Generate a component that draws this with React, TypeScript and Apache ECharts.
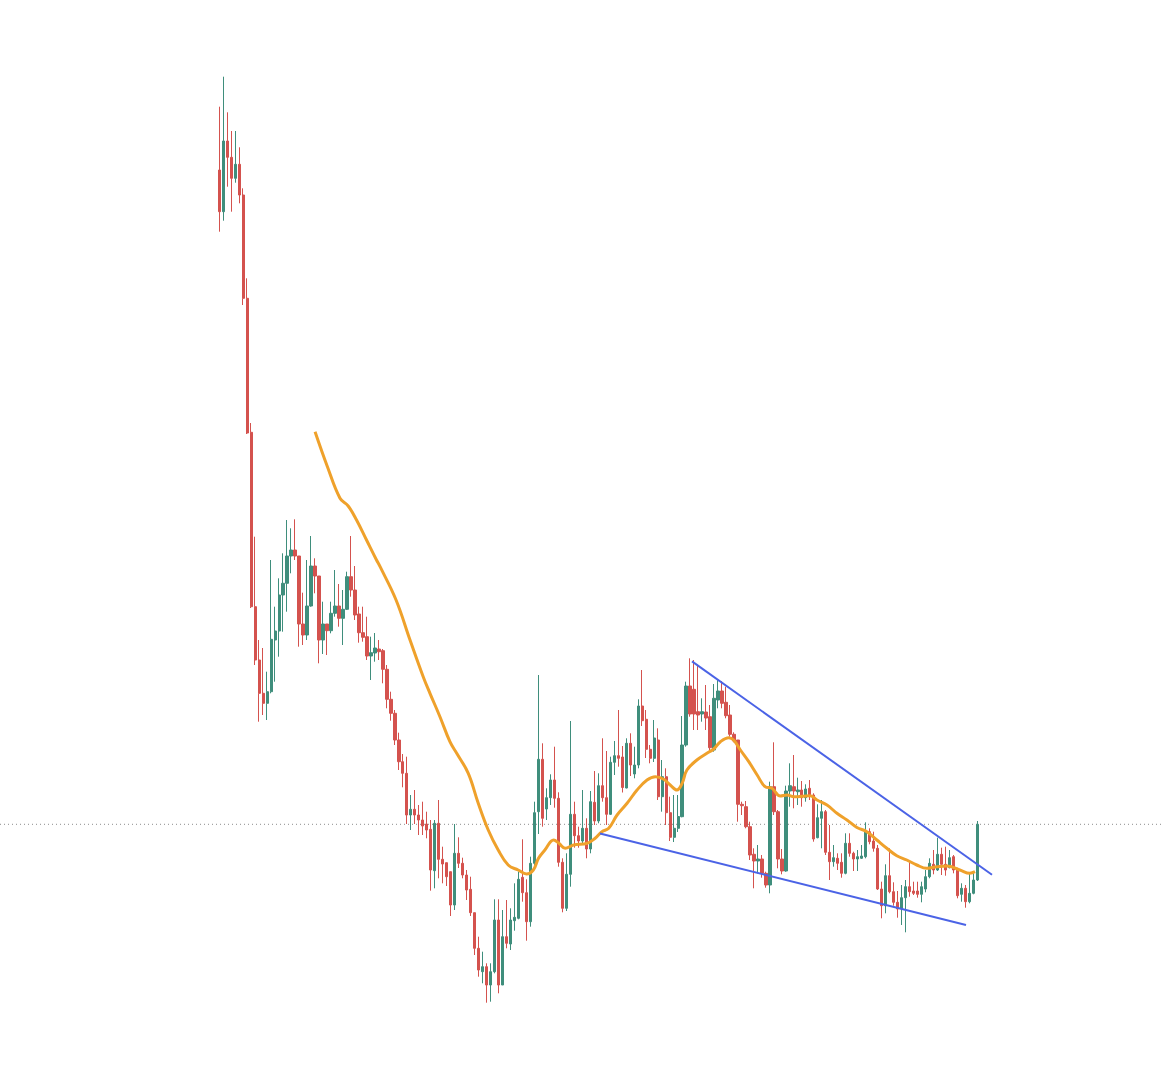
import React, { useEffect, useRef } from "react";
import * as echarts from "echarts";

// Candles: [open, close, low, high]
const CANDLES: number[][] = [
  [91.5, 87.33, 85.33, 97.83],
  [87.33, 94.4, 86.43, 100.83],
  [94.4, 92.77, 89.83, 97.27],
  [92.77, 90.67, 87.33, 95.4],
  [90.67, 92.07, 90.23, 95.4],
  [92.07, 89.0, 88.17, 93.77],
  [89.0, 78.67, 78.0, 89.67],
  [78.67, 65.2, 65.1, 80.67],
  [65.27, 47.83, 47.7, 66.2],
  [47.83, 42.5, 42.0, 54.83],
  [42.5, 39.17, 36.33, 44.5],
  [39.17, 38.17, 37.0, 43.7],
  [38.17, 39.33, 36.5, 41.33],
  [39.33, 44.57, 39.17, 52.5],
  [44.5, 45.4, 40.33, 47.83],
  [45.4, 49.0, 42.83, 50.67],
  [49.0, 50.17, 45.33, 53.17],
  [50.17, 52.9, 47.33, 56.5],
  [52.9, 53.5, 51.17, 55.67],
  [53.5, 52.9, 52.5, 56.57],
  [52.9, 46.1, 43.83, 52.9],
  [46.1, 45.0, 44.0, 49.23],
  [45.0, 47.9, 44.5, 52.5],
  [47.9, 51.9, 47.83, 54.9],
  [51.9, 50.9, 49.17, 52.67],
  [50.9, 44.5, 42.17, 50.9],
  [44.5, 46.1, 43.1, 48.33],
  [46.1, 45.43, 43.0, 46.1],
  [45.43, 47.17, 45.17, 48.33],
  [47.17, 47.9, 46.83, 51.5],
  [47.9, 46.67, 45.83, 50.1],
  [46.67, 47.57, 44.0, 49.5],
  [47.57, 50.83, 47.5, 51.33],
  [50.83, 49.5, 48.83, 54.9],
  [49.5, 47.0, 46.5, 51.9],
  [47.1, 45.23, 44.23, 47.83],
  [45.23, 44.77, 44.33, 47.83],
  [44.83, 42.9, 42.5, 46.83],
  [42.9, 43.23, 40.5, 44.83],
  [43.2, 43.7, 42.33, 45.2],
  [43.6, 43.33, 42.5, 44.5],
  [43.43, 41.57, 40.17, 43.6],
  [41.57, 38.57, 37.67, 42.0],
  [38.57, 37.17, 36.43, 39.33],
  [37.17, 34.5, 34.0, 37.5],
  [34.5, 32.33, 31.5, 35.23],
  [32.33, 31.17, 29.77, 33.1],
  [31.17, 27.0, 26.1, 32.83],
  [27.0, 27.57, 25.5, 29.0],
  [27.57, 27.0, 26.1, 29.5],
  [27.0, 26.5, 25.0, 28.0],
  [26.5, 25.9, 25.0, 28.33],
  [26.1, 25.5, 24.67, 27.33],
  [25.57, 21.5, 19.43, 26.5],
  [21.43, 26.17, 19.67, 26.5],
  [26.17, 22.57, 20.67, 28.5],
  [22.57, 22.1, 20.17, 23.83],
  [22.23, 20.83, 19.9, 22.23],
  [21.33, 18.0, 16.9, 21.33],
  [18.0, 23.17, 17.5, 26.1],
  [23.17, 22.17, 21.7, 24.77],
  [22.17, 21.0, 20.67, 22.73],
  [21.0, 19.5, 18.5, 21.5],
  [19.57, 17.23, 16.9, 20.83],
  [17.23, 13.67, 13.0, 17.23],
  [13.67, 11.5, 10.83, 14.83],
  [11.33, 11.83, 10.17, 13.33],
  [11.83, 10.0, 8.23, 12.17],
  [10.0, 11.33, 8.33, 12.17],
  [11.33, 16.5, 11.17, 18.57],
  [16.5, 10.0, 9.17, 18.57],
  [10.0, 14.83, 10.0, 17.5],
  [14.83, 14.17, 13.67, 18.5],
  [14.1, 16.5, 13.5, 17.67],
  [16.43, 16.77, 15.43, 20.17],
  [16.67, 20.57, 16.57, 21.33],
  [20.77, 19.23, 18.33, 24.57],
  [19.23, 16.33, 14.43, 20.57],
  [16.33, 22.17, 15.83, 22.83],
  [22.17, 27.23, 21.83, 28.33],
  [27.33, 32.57, 25.1, 41.0],
  [32.57, 26.67, 25.83, 34.17],
  [27.6, 28.73, 26.5, 29.67],
  [28.73, 30.5, 28.0, 31.07],
  [30.5, 28.67, 27.73, 33.83],
  [28.67, 22.27, 21.83, 29.27],
  [22.27, 17.67, 17.27, 22.67],
  [17.67, 21.07, 17.4, 23.17],
  [21.07, 27.07, 19.83, 36.4],
  [27.07, 24.93, 23.73, 28.33],
  [24.93, 24.4, 23.73, 25.83],
  [24.4, 25.67, 24.07, 29.5],
  [25.67, 23.6, 22.67, 26.67],
  [23.6, 28.33, 23.17, 29.4],
  [28.27, 26.4, 26.0, 31.4],
  [26.4, 29.93, 26.17, 31.17],
  [29.93, 28.73, 28.33, 34.67],
  [28.73, 27.07, 26.0, 33.4],
  [27.07, 32.27, 27.0, 32.83],
  [32.27, 32.93, 31.0, 34.4],
  [32.93, 32.67, 31.83, 37.5],
  [32.8, 29.75, 29.25, 33.9],
  [29.7, 34.17, 29.67, 34.67],
  [34.17, 32.0, 30.9, 35.17],
  [31.1, 32.0, 30.67, 33.83],
  [32.0, 37.9, 31.67, 38.57],
  [37.9, 36.43, 35.9, 41.5],
  [36.57, 33.57, 32.7, 37.5],
  [33.57, 32.67, 32.17, 34.0],
  [32.67, 34.7, 32.3, 36.5],
  [34.5, 28.83, 28.5, 35.67],
  [28.83, 30.83, 27.33, 32.5],
  [30.83, 27.23, 26.0, 31.67],
  [27.23, 24.77, 24.4, 28.83],
  [24.77, 25.67, 24.3, 29.0],
  [25.67, 26.85, 25.3, 29.0],
  [26.83, 34.0, 26.77, 36.9],
  [34.0, 39.9, 33.83, 40.33],
  [39.9, 37.1, 36.83, 42.67],
  [39.57, 37.1, 35.5, 42.5],
  [37.33, 37.0, 35.5, 42.0],
  [37.1, 37.33, 36.33, 38.67],
  [37.3, 36.7, 35.5, 40.0],
  [36.83, 33.73, 33.33, 38.0],
  [33.5, 38.67, 33.33, 40.1],
  [38.5, 39.4, 37.67, 40.5],
  [39.4, 38.17, 37.67, 40.4],
  [38.27, 36.93, 36.67, 39.83],
  [37.0, 35.07, 34.83, 38.0],
  [35.07, 34.4, 34.27, 35.27],
  [34.5, 28.07, 26.33, 34.5],
  [28.07, 27.93, 27.0, 28.33],
  [27.83, 25.83, 25.67, 28.4],
  [25.83, 23.0, 22.5, 26.33],
  [23.07, 22.4, 19.67, 23.67],
  [22.4, 22.6, 21.17, 24.0],
  [22.6, 21.17, 20.73, 23.0],
  [21.17, 20.0, 19.73, 21.33],
  [20.0, 29.83, 19.17, 30.33],
  [29.83, 27.33, 27.0, 34.27],
  [27.33, 22.6, 21.67, 27.5],
  [22.6, 21.4, 21.07, 23.6],
  [21.4, 29.4, 21.33, 29.93],
  [29.4, 29.93, 27.83, 32.17],
  [29.83, 29.4, 27.67, 33.0],
  [29.33, 29.5, 28.0, 30.73],
  [29.5, 28.73, 27.83, 30.4],
  [28.73, 29.6, 28.33, 30.07],
  [29.67, 29.0, 28.5, 30.5],
  [29.0, 24.6, 24.33, 29.17],
  [24.73, 26.73, 24.67, 28.07],
  [26.67, 27.33, 23.67, 28.5],
  [27.33, 23.27, 23.0, 27.5],
  [23.27, 22.33, 20.5, 26.0],
  [22.33, 22.73, 21.83, 24.0],
  [22.67, 22.17, 21.5, 23.17],
  [22.27, 21.17, 20.73, 23.17],
  [21.17, 24.17, 21.07, 25.17],
  [24.17, 23.17, 22.83, 25.17],
  [23.17, 22.6, 21.4, 23.33],
  [22.6, 22.83, 21.4, 23.5],
  [22.67, 22.9, 22.6, 24.0],
  [22.83, 25.33, 22.67, 26.27],
  [25.33, 24.33, 24.07, 25.67],
  [24.4, 23.67, 23.33, 25.33],
  [23.67, 19.6, 19.5, 24.0],
  [19.6, 17.93, 16.67, 20.33],
  [17.93, 20.93, 17.17, 22.07],
  [20.93, 19.33, 19.17, 23.67],
  [19.33, 18.27, 17.93, 20.27],
  [18.27, 17.6, 16.73, 19.4],
  [17.6, 18.73, 16.0, 20.0],
  [18.73, 19.83, 15.27, 20.5],
  [19.83, 19.33, 18.83, 22.4],
  [19.4, 19.17, 19.0, 20.33],
  [19.4, 19.07, 18.73, 20.33],
  [19.07, 19.83, 18.27, 20.33],
  [19.6, 20.83, 19.27, 21.5],
  [20.83, 22.17, 20.67, 22.67],
  [22.07, 21.5, 21.07, 23.5],
  [21.5, 23.07, 21.4, 24.73],
  [23.07, 22.07, 21.0, 23.73],
  [22.07, 21.5, 20.93, 23.83],
  [21.73, 22.73, 21.67, 23.5],
  [22.83, 21.5, 21.17, 23.0],
  [21.5, 18.93, 18.67, 21.73],
  [19.07, 19.67, 18.33, 20.17],
  [19.67, 18.33, 17.73, 20.0],
  [18.33, 19.17, 18.17, 21.17],
  [19.17, 20.5, 19.07, 21.33],
  [20.5, 26.07, 20.4, 26.4],
];

// Total slots on the time axis (candles plus empty room on the right)
const SLOT_COUNT = 197;
const CATEGORIES: string[] = Array.from({ length: SLOT_COUNT }, (_, i) => String(i + 1));

// Moving average: [slot index, value]
const MA_POINTS: number[][] = [
  [24, 65.33], [27.1, 61.83], [30.25, 58.67], [32.3, 57.9], [34.4, 56.5],
  [36.9, 54.5], [39.4, 52.5], [40.3, 51.83], [44.3, 48.5], [47.8, 44.5],
  [51.1, 40.83], [52.8, 39.17], [55.3, 36.83], [57.8, 34.33], [59.5, 33.17],
  [62.4, 31.17], [64.9, 28.17], [67.4, 25.5], [69.9, 23.5], [72.4, 22.0],
  [74.9, 21.5], [77.0, 21.1], [78.7, 21.5], [80.0, 22.67], [81.6, 23.5],
  [83.8, 24.5], [85.1, 24.17], [86.7, 23.67], [88.8, 24.0], [92.2, 24.17],
  [94.2, 24.67], [95.9, 25.33], [97.6, 25.67], [99.7, 27.0], [102.2, 28.17],
  [104.7, 29.5], [107.2, 30.5], [109.3, 30.83], [111.4, 30.57], [113.0, 30.0],
  [114.7, 29.5], [116.0, 30.17], [117.2, 31.5], [119.7, 32.5], [122.2, 33.17],
  [123.9, 33.6], [125.6, 34.33], [127.7, 34.73], [128.9, 34.5], [130.6, 33.5],
  [132.7, 32.33], [134.8, 31.0], [136.8, 29.83], [138.5, 29.67], [140.6, 28.9],
  [142.3, 29.0], [144.0, 28.83], [148.1, 28.93], [149.8, 28.5], [152.3, 28.0],
  [154.8, 27.17], [157.3, 26.5], [159.8, 25.75], [162.3, 25.33], [164.8, 24.5],
  [167.3, 23.67], [169.8, 22.93], [172.3, 22.5], [174.8, 22.0], [177.3, 21.67],
  [179.9, 21.83], [182.4, 21.9], [185.6, 21.5], [188.1, 21.17], [189.4, 21.33],
];

// Trendlines: [slot index, value]
const UPPER_TREND: number[][] = [[118.47, 42.36], [193.66, 21.02]];
const LOWER_TREND: number[][] = [[95.41, 25.15], [187.14, 16.0]];

const Y_MIN = 0;
const Y_MAX = 108.5;

const UP_COLOR = "#3F8E7C";
const DOWN_COLOR = "#D4524E";

export default function App() {
  const ref = useRef<HTMLDivElement>(null);

  useEffect(() => {
    if (!ref.current) return;
    const chart = echarts.init(ref.current, undefined, { renderer: "svg" });
    const lastClose = CANDLES[CANDLES.length - 1][1];
    const slotW = 3.99;
    const gridW = slotW * SLOT_COUNT;
    const gridLeft = 219.3 - slotW / 2;

    chart.setOption({
      animation: false,
      backgroundColor: "#ffffff",
      grid: [
        { left: gridLeft, top: 0, width: gridW, height: 1085 },
        { left: 0, top: 0, width: 1163, height: 1085 },
      ],
      xAxis: [
        { type: "category", gridIndex: 0, data: CATEGORIES, show: false, boundaryGap: true },
        { type: "value", gridIndex: 0, min: -0.5, max: SLOT_COUNT - 0.5, show: false },
        { type: "value", gridIndex: 1, min: 0, max: 1, show: false },
      ],
      yAxis: [
        { type: "value", gridIndex: 0, min: Y_MIN, max: Y_MAX, show: false },
        { type: "value", gridIndex: 1, min: Y_MIN, max: Y_MAX, show: false },
      ],
      series: [
        {
          name: "Last",
          type: "line",
          xAxisIndex: 2,
          yAxisIndex: 1,
          data: [[0, lastClose], [1, lastClose]],
          symbol: "none",
          silent: true,
          z: 1,
          lineStyle: { color: "#8c8c8c", width: 1, type: [1, 3] },
        },
        {
          name: "Price",
          type: "candlestick",
          xAxisIndex: 0,
          yAxisIndex: 0,
          data: CANDLES,
          barWidth: 2.8,
          z: 2,
          itemStyle: {
            color: UP_COLOR,
            color0: DOWN_COLOR,
            borderColor: UP_COLOR,
            borderColor0: DOWN_COLOR,
            borderWidth: 1,
          },
        },
        {
          name: "MA",
          type: "line",
          xAxisIndex: 1,
          yAxisIndex: 0,
          data: MA_POINTS,
          smooth: 0.4,
          symbol: "none",
          z: 3,
          lineStyle: { color: "#EFA12B", width: 3 },
        },
        {
          name: "Upper",
          type: "line",
          xAxisIndex: 1,
          yAxisIndex: 0,
          data: UPPER_TREND,
          symbol: "none",
          z: 4,
          lineStyle: { color: "#4B63E6", width: 2 },
        },
        {
          name: "Lower",
          type: "line",
          xAxisIndex: 1,
          yAxisIndex: 0,
          data: LOWER_TREND,
          symbol: "none",
          z: 4,
          lineStyle: { color: "#4B63E6", width: 2 },
        },
      ],
    });

    return () => {
      chart.dispose();
    };
  }, []);

  return (
    <div
      ref={ref}
      style={{ position: "absolute", left: 0, top: 0, width: 1163, height: 1085 }}
    />
  );
}
